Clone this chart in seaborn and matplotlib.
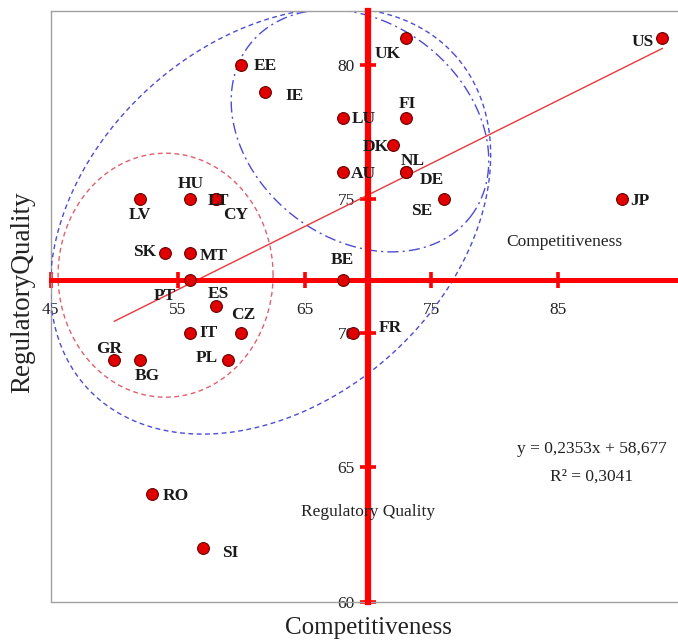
import numpy as np
import pandas as pd
import matplotlib.pyplot as plt
import seaborn as sns

# ── Data ──────────────────────────────────────────────────────────────────────

COUNTRIES = ["US", "UK", "EE", "IE", "LU", "FI", "DK", "AU", "NL", "DE",
             "SE", "JP", "LV", "HU", "LT", "CY", "SK", "MT", "PT", "BE",
             "ES", "CZ", "IT", "FR", "GR", "BG", "PL", "RO", "SI"]
COMPETITIVENESS = [93.2, 73, 60, 61.9, 68, 73, 72, 68, 73, 73,
                   76, 90, 52, 56, 58, 58, 54, 56, 56, 68,
                   58, 60, 56, 68.85, 50, 52, 59, 53, 57]
REG_QUALITY = [81, 81, 80, 79, 78, 78, 77, 76, 76, 76,
               75, 75, 75, 75, 75, 75, 73, 73, 72, 72,
               71, 70, 70, 70, 69, 69, 69, 64, 62]

X_TICKS = [45, 55, 65, 75, 85]
Y_TICKS = [60, 65, 70, 75, 80]

# trend line as printed on the chart
SLOPE, INTERCEPT = 0.2353, 58.677
EQ_TEXT = "y = 0,2353x + 58,677"
R2_TEXT = "R² = 0,3041"

# ── Layout ────────────────────────────────────────────────────────────────────

FIG_W, FIG_H, DPI = 6.78, 6.44, 100
AX_RECT = [0.0748, 0.0657, 0.9252, 0.9172]
XLIM = (45, 94.43)
YLIM = (60, 82.0)
CROSS_X, CROSS_Y = 70, 72

PX_PER_X = AX_RECT[2] * FIG_W * DPI / (XLIM[1] - XLIM[0])
PX_PER_Y = AX_RECT[3] * FIG_H * DPI / (YLIM[1] - YLIM[0])

# label offsets in pixels (dx right, dy down) from each point
LABEL_OFFSETS = {
    "US": (-20, 4), "UK": (-18, 16), "EE": (24, 1), "IE": (29, 4),
    "LU": (21, 1), "FI": (1, -14), "DK": (-18, 2), "AU": (21, 2),
    "NL": (7, -11), "DE": (26, 8), "SE": (-22, 12), "JP": (18, 2),
    "LV": (0, 16), "HU": (0, -15), "LT": (3, 2), "CY": (20, 16),
    "SK": (-20, -1), "MT": (23, 3), "PT": (-25, 16), "BE": (0, -20),
    "ES": (3, -12), "CZ": (2, -18), "IT": (18, 0), "FR": (37, -5),
    "GR": (-5, -11), "BG": (8, 16), "PL": (-22, -2), "RO": (24, 2),
    "SI": (27, 5),
}

RED = "#ff0000"
BLUE = "#4c4cd6"


def draw_ellipse(ax, cx, cy, a_px, b_px, angle, **kw):
    """Ellipse with semi-axes in screen pixels, so unequal axis scales don't shear it."""
    t = np.linspace(0, 2 * np.pi, 400)
    th = np.deg2rad(angle)
    ex = a_px * np.cos(t) * np.cos(th) - b_px * np.sin(t) * np.sin(th)
    ey = a_px * np.cos(t) * np.sin(th) + b_px * np.sin(t) * np.cos(th)
    ax.plot(cx + ex / PX_PER_X, cy + ey / PX_PER_Y, **kw)


def main():
    sns.set_style("white")
    plt.rcParams["font.family"] = ["Liberation Serif", "DejaVu Serif"]

    df = pd.DataFrame({"country": COUNTRIES,
                       "comp": COMPETITIVENESS,
                       "reg": REG_QUALITY})

    fig = plt.figure(figsize=(FIG_W, FIG_H), dpi=DPI)
    ax = fig.add_axes(AX_RECT)
    ax.set_xlim(*XLIM)
    ax.set_ylim(*YLIM)

    # ── crossed red axes ──
    ax.spines["left"].set_position(("data", CROSS_X))
    ax.spines["bottom"].set_position(("data", CROSS_Y))
    ax.spines["left"].set_color(RED)
    ax.spines["bottom"].set_color(RED)
    ax.spines["left"].set_linewidth(4.5)
    ax.spines["bottom"].set_linewidth(3.6)
    ax.spines["left"].set_zorder(2.6)
    ax.spines["bottom"].set_zorder(2.6)
    ax.spines["right"].set_visible(False)
    ax.spines["top"].set_color("#a0a0a0")
    ax.spines["top"].set_linewidth(1.0)
    # gray frame on the left and bottom
    ax.plot([0, 0], [0, 1], transform=ax.transAxes, color="#a0a0a0", lw=1.0, clip_on=False)
    ax.plot([0, 1], [0, 0], transform=ax.transAxes, color="#a0a0a0", lw=1.0, clip_on=False)

    ax.set_xticks(X_TICKS)
    ax.set_yticks(Y_TICKS)
    ax.set_xticklabels([str(v) for v in X_TICKS])
    ax.set_yticklabels([str(v) for v in Y_TICKS])
    # seaborn's white style switches the tick marks off, turn them back on
    ax.tick_params(axis="x", bottom=True, direction="inout", length=11, width=2.6,
                   color=RED, pad=11, labelsize=12.5, labelcolor="#222222")
    ax.tick_params(axis="y", left=True, direction="inout", length=11, width=2.6,
                   color=RED, pad=4, labelsize=12.5, labelcolor="#222222")

    # ── cluster ellipses ──
    draw_ellipse(ax, 54.05, 72.16, 107.5, 122, 0,
                 color="#e0606e", lw=1.0, ls=(0, (3.5, 2.5)), zorder=2)
    draw_ellipse(ax, 62.32, 74.18, 248, 180, 42,
                 color=BLUE, lw=1.0, ls=(0, (3.5, 2.5)), zorder=2)
    draw_ellipse(ax, 69.37, 77.54, 140, 108, -38,
                 color=BLUE, lw=1.0, ls=(0, (8, 3, 1.5, 3)), zorder=2)

    # ── trend line ──
    xs = np.array([min(COMPETITIVENESS), max(COMPETITIVENESS)])
    ax.plot(xs, SLOPE * xs + INTERCEPT, color="#e8383c", lw=1.0, zorder=2)

    # ── points ──
    sns.scatterplot(data=df, x="comp", y="reg", ax=ax, color="#e00000",
                    edgecolor="#6a0000", linewidth=0.8, s=72, legend=False, zorder=4)

    for name, x, y in zip(COUNTRIES, COMPETITIVENESS, REG_QUALITY):
        dx, dy = LABEL_OFFSETS[name]
        ax.annotate(name, (x, y), xytext=(dx * 0.72, -dy * 0.72),
                    textcoords="offset points", ha="center", va="center",
                    fontsize=12.5, fontweight="bold", color="#1a1a1a", zorder=5)

    # ── in-plot texts ──
    ax.text(85.5, 73.38, "Competitiveness", ha="center", va="center",
            fontsize=12.5, color="#222222")
    ax.text(70.0, 63.33, "Regulatory Quality", ha="center", va="center",
            fontsize=12.5, color="#222222", zorder=5)
    ax.text(87.63, 65.7, EQ_TEXT, ha="center", va="center", fontsize=12.5, color="#222222")
    ax.text(87.63, 64.65, R2_TEXT, ha="center", va="center", fontsize=12.5, color="#222222")

    ax.set_xlabel("Competitiveness", fontsize=18, color="#222222")
    ax.set_ylabel("RegulatoryQuality", fontsize=19.5, color="#222222")
    ax.xaxis.set_label_coords(0.506, -0.0445)
    ax.xaxis.label.set_verticalalignment("center")
    ax.yaxis.set_label_coords(-0.044, 0.524)
    ax.yaxis.label.set_verticalalignment("center")

    fig.savefig("out.png", dpi=DPI)
    plt.close(fig)


if __name__ == "__main__":
    main()
